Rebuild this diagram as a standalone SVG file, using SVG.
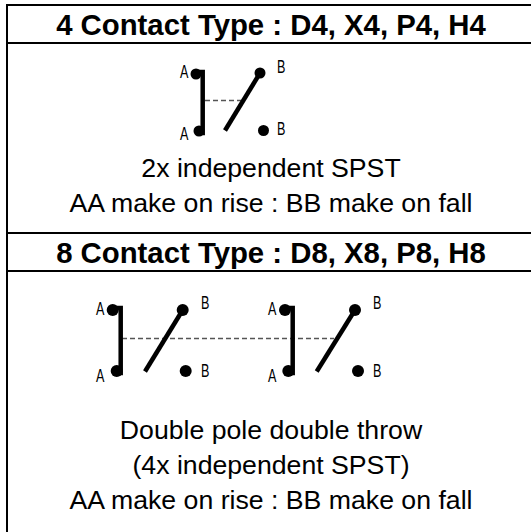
<svg xmlns="http://www.w3.org/2000/svg" width="531" height="532" viewBox="0 0 531 532">
<style>
.bd{stroke:#000;stroke-width:2;fill:none}
.h{font:bold 29.330px "Liberation Sans",Arial,sans-serif;text-anchor:middle;fill:#000}
.t{font:26.670px "Liberation Sans",Arial,sans-serif;text-anchor:middle;fill:#000}
.l{font:18px "Liberation Sans",Arial,sans-serif;fill:#000}
.bar{stroke:#000;stroke-width:4.500;fill:none}
.d{stroke:#555;stroke-width:1.500;stroke-dasharray:5 3;fill:none}
</style>
<rect width="531" height="532" fill="#fff"/>
<g id="table">
<path class="bd" d="M7 532V5H531M7 43H531M7 233H531M7 271H531"/>
</g>
<g id="h1"><text class="h" x="271" y="35">4 Contact Type : D4, X4, P4, H4</text></g>
<g id="c1"><text class="t" x="271" y="177">2x independent SPST</text><text class="t" x="271" y="212">AA make on rise : BB make on fall</text></g>
<g id="h2"><text class="h" x="271" y="263">8 Contact Type : D8, X8, P8, H8</text></g>
<g id="c2"><text class="t" x="271" y="438.500">Double pole double throw</text><text class="t" x="271" y="473.500">(4x independent SPST)</text><text class="t" x="271" y="508.500">AA make on rise : BB make on fall</text></g>
<g id="connectors">
<path class="d" d="M205 100.500H241"/>
<path class="d" d="M122 338.500H334"/>
<path class="bar" d="M196 72H202.700V133H199"/>
<path class="bar" d="M260 73L225 130.500"/>
<path class="bar" d="M113 308H120.700V373H116"/>
<path class="bar" d="M182.700 310L145 371.500"/>
<path class="bar" d="M285 308H292.700V373H288"/>
<path class="bar" d="M355 310L316.700 371.500"/>
</g>
<g id="sw1">
<circle cx="196" cy="74" r="5.500"/><circle cx="199" cy="131" r="5.500"/><circle cx="260" cy="73" r="5.500"/><circle cx="263.500" cy="130.500" r="5.500"/>
<text class="l" transform="translate(180 78) scale(.7 1)">A</text>
<text class="l" transform="translate(180 140) scale(.7 1)">A</text>
<text class="l" transform="translate(277 73) scale(.7 1)">B</text>
<text class="l" transform="translate(277 135) scale(.7 1)">B</text>
</g>
<g id="sw2">
<circle cx="112.700" cy="310" r="6"/><circle cx="116.700" cy="371" r="6"/><circle cx="182.700" cy="310" r="6"/><circle cx="185.700" cy="371" r="6"/>
<text class="l" transform="translate(96 315) scale(.7 1)">A</text>
<text class="l" transform="translate(96 382) scale(.7 1)">A</text>
<text class="l" transform="translate(201 309) scale(.7 1)">B</text>
<text class="l" transform="translate(201 377) scale(.7 1)">B</text>
</g>
<g id="sw3">
<circle cx="285" cy="310" r="6"/><circle cx="288.300" cy="371" r="6"/><circle cx="355" cy="310" r="6"/><circle cx="358" cy="371" r="6"/>
<text class="l" transform="translate(268 315) scale(.7 1)">A</text>
<text class="l" transform="translate(268 382) scale(.7 1)">A</text>
<text class="l" transform="translate(373 309) scale(.7 1)">B</text>
<text class="l" transform="translate(373 377) scale(.7 1)">B</text>
</g>
</svg>
